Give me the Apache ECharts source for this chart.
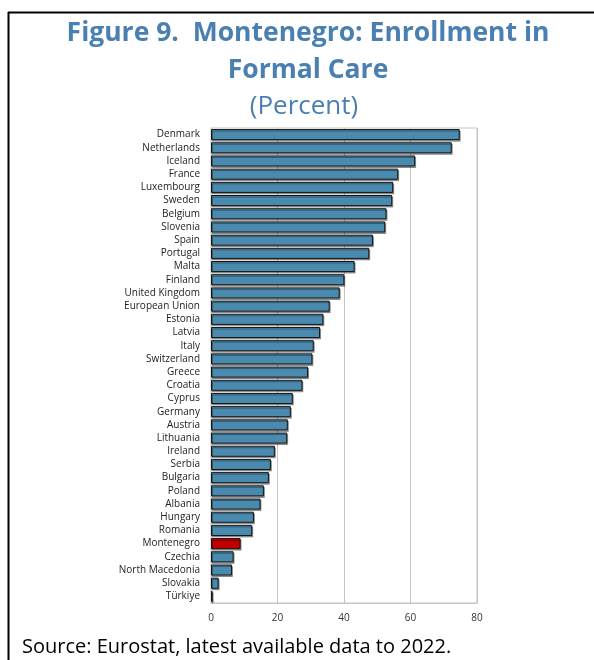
<!DOCTYPE html>
<html>
<head>
<meta charset="utf-8">
<script src="https://cdn.jsdelivr.net/npm/echarts@6/dist/echarts.min.js"></script>
<style>
  html, body { margin: 0; padding: 0; background: #fff; }
  #chart { width: 594px; height: 660px; }
</style>
</head>
<body>
<div id="chart"></div>
<script>
// Enrollment in formal childcare, percent (Eurostat, latest available to 2022)
const countries = [
  'Denmark', 'Netherlands', 'Iceland', 'France', 'Luxembourg', 'Sweden',
  'Belgium', 'Slovenia', 'Spain', 'Portugal', 'Malta', 'Finland',
  'United Kingdom', 'European Union', 'Estonia', 'Latvia', 'Italy',
  'Switzerland', 'Greece', 'Croatia', 'Cyprus', 'Germany', 'Austria',
  'Lithuania', 'Ireland', 'Serbia', 'Bulgaria', 'Poland', 'Albania',
  'Hungary', 'Romania', 'Montenegro', 'Czechia', 'North Macedonia',
  'Slovakia', 'Türkiye'
];
const enrollment = [
  74.8, 72.4, 61.4, 56.3, 54.8, 54.5,
  52.8, 52.4, 48.7, 47.6, 43.2, 40.1,
  38.7, 35.7, 33.8, 32.8, 30.9,
  30.5, 29.2, 27.5, 24.6, 24.0, 23.1,
  22.9, 19.2, 18.0, 17.4, 15.9, 14.9,
  12.9, 12.4, 8.9, 6.8, 6.3,
  2.3, 0.5
];
const highlighted = 'Montenegro';
const xTicks = { min: 0, max: 80, interval: 20 };

const titleColor = '#4A7FB1';
const barColor = '#4A8AAE';
const highlightColor = '#C00000';

const chart = echarts.init(document.getElementById('chart'), null, { renderer: 'canvas' });

chart.setOption({
  animation: false,
  backgroundColor: '#ffffff',
  textStyle: { fontFamily: 'Open Sans' },
  grid: {
    left: 211, right: 117, top: 128, bottom: 57,
    show: true, borderColor: '#c4c4c4', borderWidth: 1
  },
  xAxis: {
    type: 'value',
    min: xTicks.min, max: xTicks.max, interval: xTicks.interval,
    axisLine: { show: true, lineStyle: { color: '#c4c4c4', width: 1 } },
    axisTick: { show: false },
    splitLine: { show: true, lineStyle: { color: '#c4c4c4', width: 1 } },
    axisLabel: { color: '#333', fontSize: 10, margin: 10, fontFamily: 'Open Sans' }
  },
  yAxis: {
    type: 'category',
    data: countries,
    inverse: true,
    axisLine: { show: true, lineStyle: { color: '#c4c4c4', width: 1 } },
    axisTick: { show: false },
    axisLabel: { interval: 0, color: '#222', fontSize: 10, margin: 11, fontFamily: 'Open Sans' }
  },
  series: [{
    type: 'bar',
    barWidth: '84%',
    data: enrollment.map((v, i) => ({
      value: v,
      itemStyle: { color: countries[i] === highlighted ? highlightColor : barColor }
    })),
    itemStyle: {
      borderColor: '#141414',
      borderWidth: 1,
      shadowColor: 'rgba(0,0,0,0.35)',
      shadowOffsetX: 1,
      shadowOffsetY: 1.5,
      shadowBlur: 0
    }
  }],
  graphic: [
    // frame lines around the figure
    { type: 'line', shape: { x1: 8, y1: 12.5, x2: 594, y2: 12.5 },
      style: { stroke: '#000', lineWidth: 2 } },
    { type: 'line', shape: { x1: 8.5, y1: 12, x2: 8.5, y2: 660 },
      style: { stroke: '#000', lineWidth: 2 } },
    // heading
    { type: 'text', x: 308, y: 33,
      style: { text: 'Figure 9.  Montenegro: Enrollment in', fill: titleColor,
        font: 'bold 26.5px "Open Sans"', align: 'center', verticalAlign: 'middle' } },
    { type: 'text', x: 308, y: 70,
      style: { text: 'Formal Care', fill: titleColor,
        font: 'bold 26.5px "Open Sans"', align: 'center', verticalAlign: 'middle' } },
    { type: 'text', x: 304, y: 107,
      style: { text: '(Percent)', fill: titleColor,
        font: '26px "Open Sans"', align: 'center', verticalAlign: 'middle' } },
    // source note
    { type: 'text', x: 22, y: 647,
      style: { text: 'Source: Eurostat, latest available data to 2022.', fill: '#000',
        font: '20px "Open Sans"', align: 'left', verticalAlign: 'middle' } }
  ]
});
</script>
</body>
</html>
